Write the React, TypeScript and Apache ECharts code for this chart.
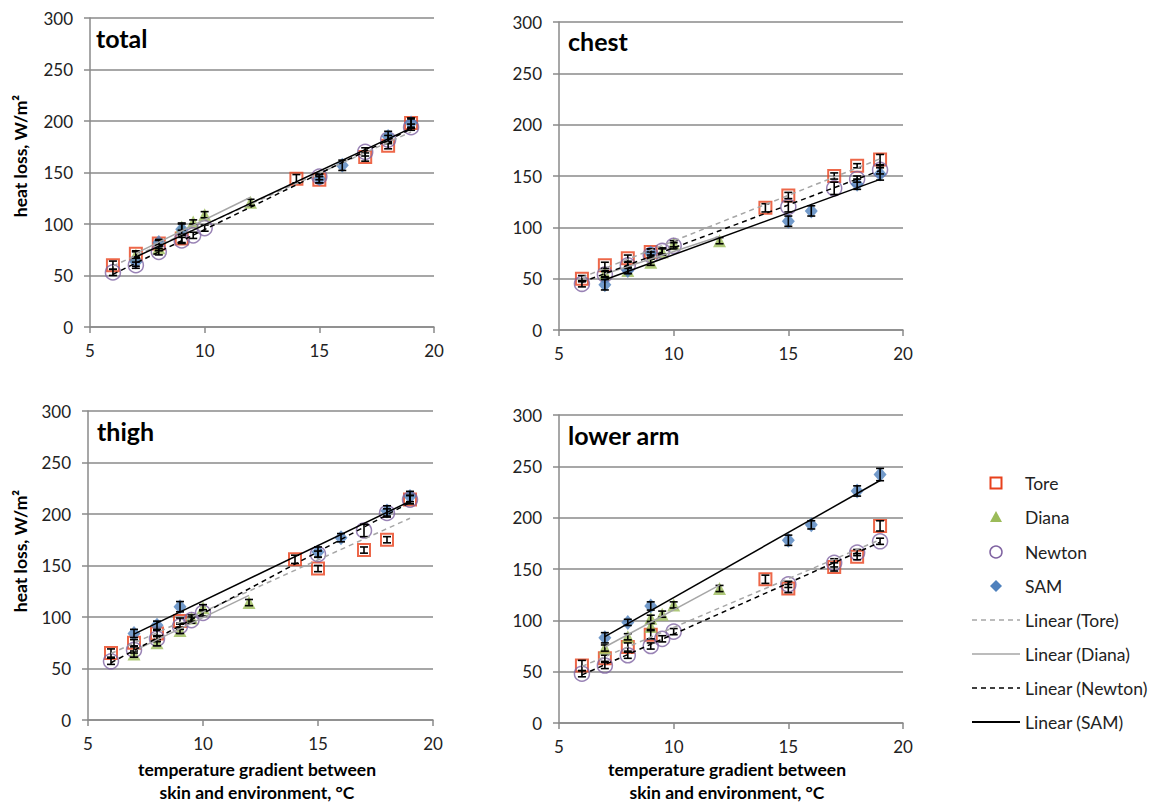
import React, { useEffect, useRef } from "react";
import * as echarts from "echarts";

// [x (°C), heat loss (W/m²), error half-width]
const totalTore = [[6, 60, 4], [7, 71, 3], [8, 81, 3], [9, 86, 4], [14, 144, 4], [15, 143, 3], [17, 165, 4], [18, 176, 3], [19, 198, 4]];
const totalDiana = [[7, 70, 3], [8, 77, 3], [9, 97, 3], [9.5, 102, 2], [10, 109, 3], [12, 121, 3]];
const totalNewton = [[6, 53, 3], [7, 60, 3], [8, 73, 3], [9, 84, 3], [9.5, 89, 3], [10, 96, 3], [15, 146, 3], [17, 170, 4], [18, 182, 4], [19, 194, 3]];
const totalSAM = [[7, 63, 4], [8, 82, 3], [9, 95, 6], [15, 144, 4], [16, 157, 5], [18, 185, 5], [19, 198, 5]];

const chestTore = [[6, 50, 3], [7, 63, 3], [8, 70, 3], [9, 76, 3], [14, 119, 4], [15, 131, 3], [17, 150, 3], [18, 160, 2], [19, 166, 5]];
const chestDiana = [[7, 55, 3], [8, 58, 3], [9, 66, 3], [9.5, 76, 3], [10, 84, 3], [12, 87, 3]];
const chestNewton = [[6, 45, 3], [7, 54, 3], [8, 63, 3], [9, 73, 3], [9.5, 77, 3], [10, 82, 3], [15, 120, 5], [17, 138, 6], [18, 147, 3], [19, 156, 4]];
const chestSAM = [[7, 44, 5], [8, 58, 3], [9, 75, 4], [15, 106, 5], [16, 116, 5], [18, 142, 5], [19, 152, 6]];

const thighTore = [[6, 65, 4], [7, 75, 3], [8, 84, 3], [9, 96, 3], [14, 156, 4], [15, 147, 3], [17, 165, 3], [18, 175, 3], [19, 214, 4]];
const thighDiana = [[7, 64, 3], [8, 75, 3], [9, 87, 3], [9.5, 99, 3], [10, 109, 3], [12, 114, 3]];
const thighNewton = [[6, 57, 3], [7, 68, 3], [8, 79, 3], [9, 91, 3], [9.5, 97, 3], [10, 104, 3], [15, 161, 3], [17, 184, 6], [18, 201, 4], [19, 214, 4]];
const thighSAM = [[7, 84, 4], [8, 92, 4], [9, 110, 5], [15, 163, 5], [16, 177, 4], [18, 203, 5], [19, 217, 5]];

const armTore = [[6, 56, 5], [7, 63, 3], [8, 74, 4], [9, 86, 4], [14, 140, 4], [15, 131, 4], [17, 152, 4], [18, 162, 3], [19, 192, 5]];
const armDiana = [[7, 73, 3], [8, 84, 3], [9, 94, 3], [9, 102, 3], [9.5, 106, 3], [10, 115, 3], [12, 131, 3]];
const armNewton = [[6, 48, 3], [7, 56, 3], [8, 66, 3], [9, 75, 3], [9.5, 82, 3], [10, 89, 3], [15, 135, 3], [17, 156, 4], [18, 166, 3], [19, 177, 3]];
const armSAM = [[7, 83, 5], [8, 98, 3], [9, 114, 4], [15, 178, 5], [16, 193, 4], [18, 226, 5], [19, 242, 6]];

const panelTitles = ["total", "chest", "thigh", "lower arm"];
const seriesNames = ["Tore", "Diana", "Newton", "SAM"];
const yTicks = { min: 0, max: 300, interval: 50 };
const xTicks = { min: 5, max: 20, interval: 5 };

const panelData = [
  [totalTore, totalDiana, totalNewton, totalSAM],
  [chestTore, chestDiana, chestNewton, chestSAM],
  [thighTore, thighDiana, thighNewton, thighSAM],
  [armTore, armDiana, armNewton, armSAM],
];

const FONT = "Lato, 'Open Sans', sans-serif";
const AXIS_COLOR = "#8a8a8a";

const grids = [
  { left: 90, top: 18, width: 344, height: 309 },
  { left: 559, top: 22, width: 344, height: 308 },
  { left: 88, top: 411, width: 345, height: 309 },
  { left: 559, top: 415, width: 344, height: 308 },
];

const markerStyles = [
  { symbol: "rect", symbolSize: 12, itemStyle: { color: "rgba(255,255,255,0)", borderColor: "#e8411c", borderWidth: 2 } },
  { symbol: "triangle", symbolSize: 13, itemStyle: { color: "#9bbb59" } },
  { symbol: "circle", symbolSize: 15, itemStyle: { color: "rgba(255,255,255,0)", borderColor: "#8064a2", borderWidth: 1.5 } },
  { symbol: "diamond", symbolSize: [13, 15], itemStyle: { color: "#4f81bd" } },
];

const trendStyles = [
  { color: "#a6a6a6", type: [5, 4], width: 1.5 },
  { color: "#a6a6a6", type: "solid", width: 1.5 },
  { color: "#000000", type: [5, 4], width: 1.5 },
  { color: "#000000", type: "solid", width: 1.5 },
];

function fitLine(pts: number[][]) {
  const n = pts.length;
  let sx = 0, sy = 0, sxx = 0, sxy = 0;
  pts.forEach(([x, y]) => { sx += x; sy += y; sxx += x * x; sxy += x * y; });
  const b = (n * sxy - sx * sy) / (n * sxx - sx * sx);
  const a = (sy - b * sx) / n;
  const xs = pts.map((p) => p[0]);
  const x0 = Math.min(...xs), x1 = Math.max(...xs);
  return [[x0, a + b * x0], [x1, a + b * x1]];
}

function errorRender(params: any, api: any) {
  const x = api.value(0), y = api.value(1), e = api.value(2);
  const top = api.coord([x, y + e]);
  const bot = api.coord([x, y - e]);
  const w = 4;
  const style = { stroke: "#000", lineWidth: 1.6 };
  return {
    type: "group",
    children: [
      { type: "line", shape: { x1: top[0], y1: top[1], x2: bot[0], y2: bot[1] }, style },
      { type: "line", shape: { x1: top[0] - w, y1: top[1], x2: top[0] + w, y2: top[1] }, style },
      { type: "line", shape: { x1: bot[0] - w, y1: bot[1], x2: bot[0] + w, y2: bot[1] }, style },
    ],
  };
}

export default function App() {
  const ref = useRef<HTMLDivElement>(null);
  useEffect(() => {
    document.body.style.margin = "0";
    const chart = echarts.init(ref.current!, null, { renderer: "svg" });

    const xAxis = grids.map((_, i) => ({
      type: "value",
      gridIndex: i,
      ...xTicks,
      axisLine: { show: true, onZero: false, lineStyle: { color: AXIS_COLOR, width: 1.5 } },
      axisTick: { show: true, inside: false, length: 6, lineStyle: { color: AXIS_COLOR, width: 1.5 } },
      axisLabel: { fontFamily: FONT, fontSize: 17, color: "#222", margin: 15 },
      splitLine: { show: false },
    }));
    const yAxis = grids.map((_, i) => ({
      type: "value",
      gridIndex: i,
      ...yTicks,
      axisLine: { show: true, lineStyle: { color: AXIS_COLOR, width: 1.5 } },
      axisTick: { show: true, inside: false, length: 6, lineStyle: { color: AXIS_COLOR, width: 1.5 } },
      axisLabel: { fontFamily: FONT, fontSize: 17, color: "#222", margin: 17 },
      splitLine: { show: true, lineStyle: { color: AXIS_COLOR, width: 1.5 } },
    }));

    const series: any[] = [];
    panelData.forEach((sets, gi) => {
      sets.forEach((pts, si) => {
        series.push({
          type: "scatter",
          name: seriesNames[si],
          xAxisIndex: gi,
          yAxisIndex: gi,
          data: pts.map((p) => [p[0], p[1]]),
          z: 2,
          ...markerStyles[si],
        });
      });
      sets.forEach((pts, si) => {
        series.push({
          type: "custom",
          name: seriesNames[si] + " error",
          xAxisIndex: gi,
          yAxisIndex: gi,
          data: pts,
          renderItem: errorRender,
          z: 3,
        });
      });
      sets.forEach((pts, si) => {
        series.push({
          type: "line",
          name: "Linear (" + seriesNames[si] + ")",
          xAxisIndex: gi,
          yAxisIndex: gi,
          data: fitLine(pts),
          showSymbol: false,
          symbol: "none",
          lineStyle: trendStyles[si],
          z: 4,
        });
      });
    });

    const graphic: any[] = [];
    const titlePos = [[96, 38], [568, 41], [97, 431], [568, 435]];
    panelTitles.forEach((t, i) => {
      graphic.push({
        type: "text",
        x: titlePos[i][0],
        y: titlePos[i][1],
        style: { text: t, font: `bold 25px ${FONT}`, fill: "#000", verticalAlign: "middle", align: "left" },
      });
    });
    [[20, 156], [20, 551]].forEach(([x, y]) => {
      graphic.push({
        type: "text",
        x, y, rotation: Math.PI / 2,
        style: { text: "heat loss, W/m²", font: `bold 17.5px ${FONT}`, fill: "#000", align: "center", verticalAlign: "middle" },
      });
    });
    [257, 727].forEach((x) => {
      graphic.push({
        type: "text", x, y: 769,
        style: { text: "temperature gradient between", font: `bold 17.5px ${FONT}`, fill: "#000", align: "center", verticalAlign: "middle" },
      });
      graphic.push({
        type: "text", x, y: 792,
        style: { text: "skin and environment, °C", font: `bold 17.5px ${FONT}`, fill: "#000", align: "center", verticalAlign: "middle" },
      });
    });

    // legend
    const lx = 996, tx = 1025;
    const legendY = [483, 517, 552, 586, 620, 654, 688, 722];
    const labelStyle = (text: string) => ({ text, font: `17.5px ${FONT}`, fill: "#222", verticalAlign: "middle", align: "left" });
    graphic.push({ type: "rect", shape: { x: lx - 5.5, y: legendY[0] - 5.5, width: 11, height: 11 }, style: { fill: "none", stroke: "#e8411c", lineWidth: 2 } });
    graphic.push({ type: "polygon", shape: { points: [[lx, legendY[1] - 6], [lx + 6, legendY[1] + 5], [lx - 6, legendY[1] + 5]] }, style: { fill: "#9bbb59" } });
    graphic.push({ type: "circle", shape: { cx: lx, cy: legendY[2], r: 6 }, style: { fill: "none", stroke: "#8064a2", lineWidth: 1.5 } });
    graphic.push({ type: "polygon", shape: { points: [[lx, legendY[3] - 6], [lx + 6, legendY[3]], [lx, legendY[3] + 6], [lx - 6, legendY[3]]] }, style: { fill: "#4f81bd" } });
    seriesNames.forEach((n, i) => {
      graphic.push({ type: "text", x: tx, y: legendY[i], style: labelStyle(n) });
      const ts = trendStyles[i];
      graphic.push({
        type: "line",
        shape: { x1: 972, y1: legendY[i + 4], x2: 1020, y2: legendY[i + 4] },
        style: { stroke: ts.color, lineWidth: i === 3 ? 2 : 1.5, lineDash: ts.type === "solid" ? null : [5, 4] },
      });
      graphic.push({ type: "text", x: tx, y: legendY[i + 4], style: labelStyle("Linear (" + n + ")") });
    });

    chart.setOption({
      animation: false,
      backgroundColor: "#fff",
      grid: grids,
      xAxis,
      yAxis,
      series,
      graphic,
    });
    return () => chart.dispose();
  }, []);
  return <div ref={ref} style={{ width: 1151, height: 804 }} />;
}
